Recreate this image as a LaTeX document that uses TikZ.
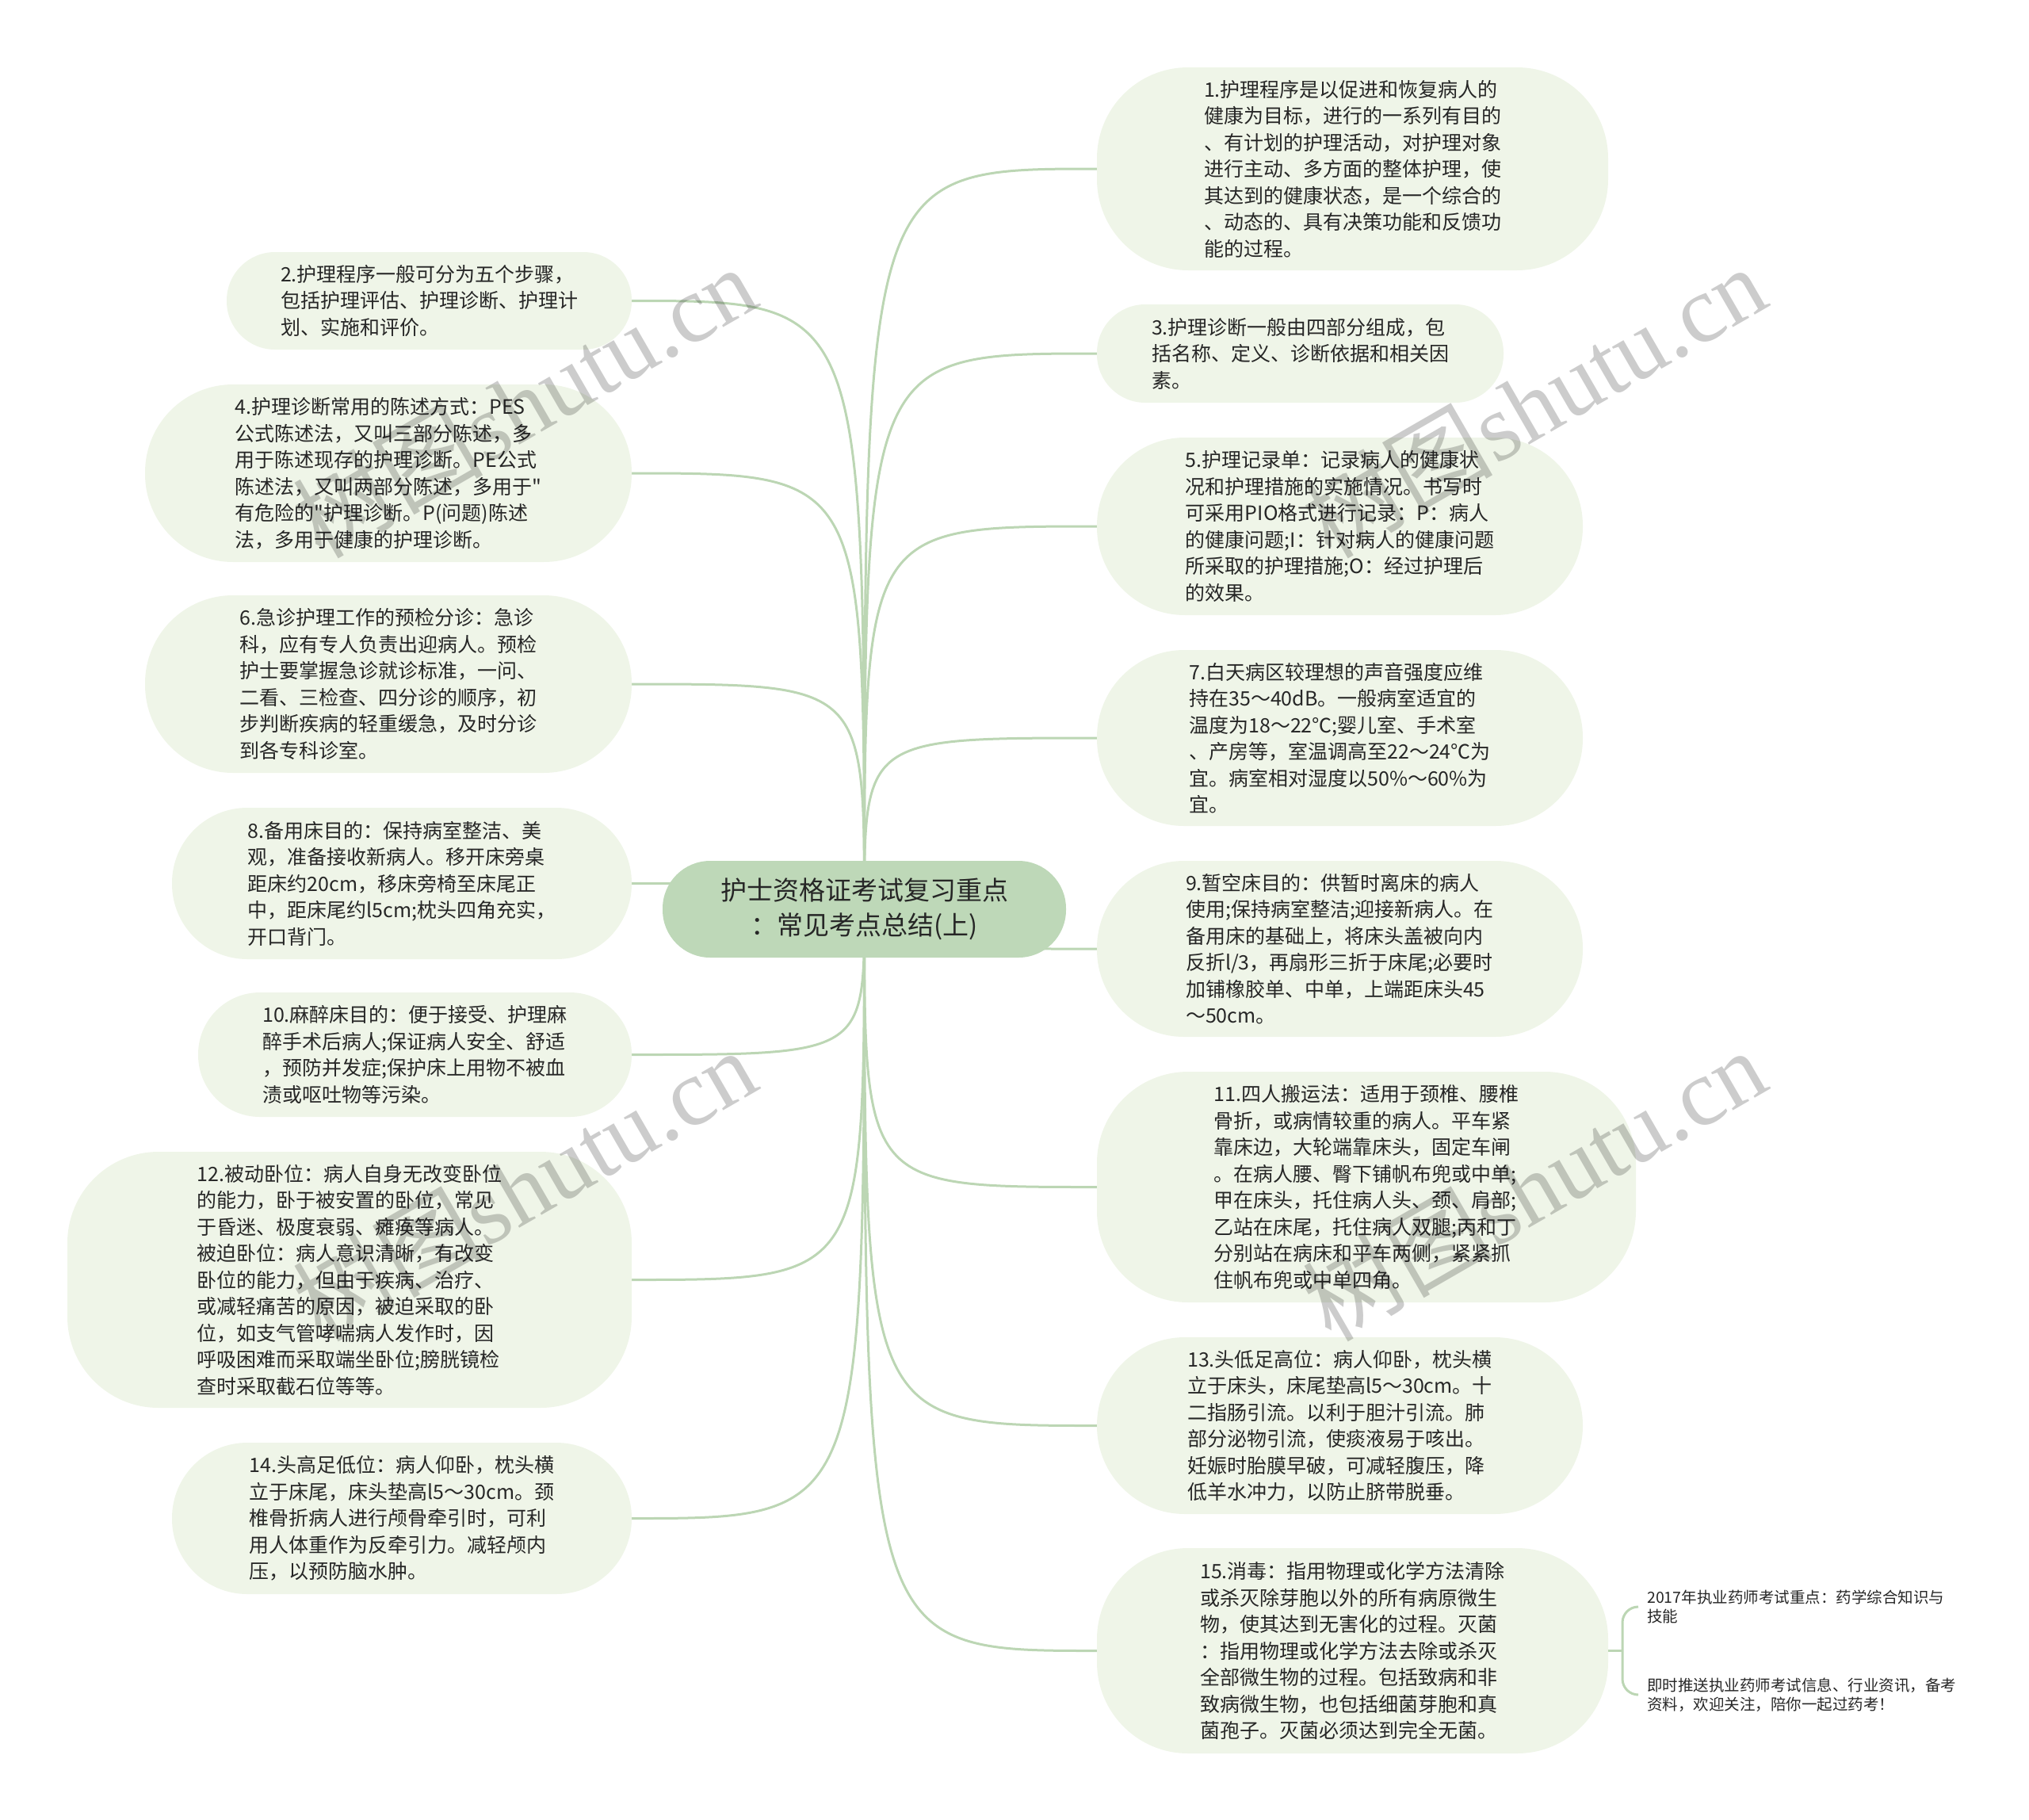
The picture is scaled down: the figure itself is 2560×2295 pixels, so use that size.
\documentclass[tikz,border=0pt]{standalone}
\usepackage{fontspec}
\setmainfont{Noto Sans CJK SC}[Ligatures=TeXOff]
\newfontfamily\wmlatin{Liberation Serif}
\usetikzlibrary{backgrounds}
\definecolor{nodefill}{RGB}{239,245,232}
\definecolor{rootfill}{RGB}{190,216,184}
\definecolor{linecol}{RGB}{188,214,180}
\definecolor{txt}{RGB}{38,38,38}
\begin{document}
\begin{tikzpicture}[x=1pt,y=-1pt,
  box/.style={fill=nodefill, inner sep=0pt, align=left, text=txt,
    font=\fontsize{25}{33.5}\selectfont},
  rootbox/.style={fill=rootfill, inner sep=0pt, align=center, text=txt,
    font=\fontsize{33}{44}\selectfont},
  leaf/.style={inner sep=0pt, align=left, text=txt, anchor=west,
    font=\fontsize{19.5}{24.5}\selectfont},
  conn/.style={draw=linecol, line width=3pt},
  wm/.style={text=black, text opacity=0.2, inner sep=0pt, rotate=30,
    font=\fontsize{120}{120}\selectfont}
]
\useasboundingbox (0,0) rectangle (2560,2295);

% root
\node[rootbox, minimum width=509, minimum height=122, rounded corners=60] (root) at (1090.5,1147)
  {护士资格证考试复习重点\\：常见考点总结(上)};

% left nodes
\node[box, minimum width=511, minimum height=123, rounded corners=61] (n2) at (541.5,379.5)
  {2.护理程序一般可分为五个步骤，\\包括护理评估、护理诊断、护理计\\划、实施和评价。};
\node[box, minimum width=614, minimum height=224, rounded corners=111] (n4) at (490,597)
  {4.护理诊断常用的陈述方式：PES\\公式陈述法，又叫三部分陈述，多\\用于陈述现存的护理诊断。PE公式\\陈述法，又叫两部分陈述，多用于"\\有危险的"护理诊断。P(问题)陈述\\法，多用于健康的护理诊断。};
\node[box, minimum width=614, minimum height=224, rounded corners=111] (n6) at (490,863)
  {6.急诊护理工作的预检分诊：急诊\\科，应有专人负责出迎病人。预检\\护士要掌握急诊就诊标准，一问、\\二看、三检查、四分诊的顺序，初\\步判断疾病的轻重缓急，及时分诊\\到各专科诊室。};
\node[box, minimum width=580, minimum height=191, rounded corners=95] (n8) at (507,1114.5)
  {8.备用床目的：保持病室整洁、美\\观，准备接收新病人。移开床旁桌\\距床约20cm，移床旁椅至床尾正\\中，距床尾约l5cm;枕头四角充实，\\开口背门。};
\node[box, minimum width=547, minimum height=157, rounded corners=78] (n10) at (523.5,1330.5)
  {10.麻醉床目的：便于接受、护理麻\\醉手术后病人;保证病人安全、舒适\\，预防并发症;保护床上用物不被血\\渍或呕吐物等污染。};
\node[box, minimum width=712, minimum height=323, rounded corners=115] (n12) at (441,1614.5)
  {12.被动卧位：病人自身无改变卧位\\的能力，卧于被安置的卧位，常见\\于昏迷、极度衰弱、瘫痪等病人。\\被迫卧位：病人意识清晰，有改变\\卧位的能力，但由于疾病、治疗、\\或减轻痛苦的原因，被迫采取的卧\\位，如支气管哮喘病人发作时，因\\呼吸困难而采取端坐卧位;膀胱镜检\\查时采取截石位等等。};
\node[box, minimum width=580, minimum height=191, rounded corners=95] (n14) at (507,1915.5)
  {14.头高足低位：病人仰卧，枕头横\\立于床尾，床头垫高l5～30cm。颈\\椎骨折病人进行颅骨牵引时，可利\\用人体重作为反牵引力。减轻颅内\\压，以预防脑水肿。};

% right nodes
\node[box, minimum width=645, minimum height=256, rounded corners=115] (n1) at (1706.5,213)
  {1.护理程序是以促进和恢复病人的\\健康为目标，进行的一系列有目的\\、有计划的护理活动，对护理对象\\进行主动、多方面的整体护理，使\\其达到的健康状态，是一个综合的\\、动态的、具有决策功能和反馈功\\能的过程。};
\node[box, minimum width=513, minimum height=124, rounded corners=61] (n3) at (1640.5,446)
  {3.护理诊断一般由四部分组成，包\\括名称、定义、诊断依据和相关因\\素。};
\node[box, minimum width=613, minimum height=224, rounded corners=111] (n5) at (1690.5,664)
  {5.护理记录单：记录病人的健康状\\况和护理措施的实施情况。书写时\\可采用PIO格式进行记录：P：病人\\的健康问题;I：针对病人的健康问题\\所采取的护理措施;O：经过护理后\\的效果。};
\node[box, minimum width=613, minimum height=222, rounded corners=110] (n7) at (1690.5,931)
  {7.白天病区较理想的声音强度应维\\持在35～40dB。一般病室适宜的\\温度为18～22℃;婴儿室、手术室\\、产房等，室温调高至22～24℃为\\宜。病室相对湿度以50\%～60\%为\\宜。};
\node[box, minimum width=613, minimum height=222, rounded corners=110] (n9) at (1690.5,1197)
  {9.暂空床目的：供暂时离床的病人\\使用;保持病室整洁;迎接新病人。在\\备用床的基础上，将床头盖被向内\\反折l/3，再扇形三折于床尾;必要时\\加铺橡胶单、中单，上端距床头45\\～50cm。};
\node[box, minimum width=680, minimum height=291, rounded corners=115] (n11) at (1724,1497.5)
  {11.四人搬运法：适用于颈椎、腰椎\\骨折，或病情较重的病人。平车紧\\靠床边，大轮端靠床头，固定车闸\\。在病人腰、臀下铺帆布兜或中单;\\甲在床头，托住病人头、颈、肩部;\\乙站在床尾，托住病人双腿;丙和丁\\分别站在病床和平车两侧，紧紧抓\\住帆布兜或中单四角。};
\node[box, minimum width=613, minimum height=223, rounded corners=111] (n13) at (1690.5,1798.5)
  {13.头低足高位：病人仰卧，枕头横\\立于床头，床尾垫高l5～30cm。十\\二指肠引流。以利于胆汁引流。肺\\部分泌物引流，使痰液易于咳出。\\妊娠时胎膜早破，可减轻腹压，降\\低羊水冲力，以防止脐带脱垂。};
\node[box, minimum width=645, minimum height=259, rounded corners=115] (n15) at (1706.5,2082.5)
  {15.消毒：指用物理或化学方法清除\\或杀灭除芽胞以外的所有病原微生\\物，使其达到无害化的过程。灭菌\\：指用物理或化学方法去除或杀灭\\全部微生物的过程。包括致病和非\\致病微生物，也包括细菌芽胞和真\\菌孢子。灭菌必须达到完全无菌。};

% leaves of n15
\node[leaf] (t1) at (2078,2027) {2017年执业药师考试重点：药学综合知识与\\技能};
\node[leaf] (t2) at (2078,2138) {即时推送执业药师考试信息、行业资讯，备考\\资料，欢迎关注，陪你一起过药考！};
\coordinate (br) at (2047,2082.5);

% connectors
\begin{scope}[on background layer]
\foreach \n in {n2,n4,n6,n8,n10,n12,n14}
  \draw[conn] (root.center) .. controls (root.center |- \n.east) .. (\n.east);
\foreach \n in {n1,n3,n5,n7,n9,n11,n13,n15}
  \draw[conn] (root.center) .. controls (root.center |- \n.west) .. (\n.west);
\end{scope}
\draw[conn] (n15.east) -- (br);
\draw[conn, rounded corners=20] ([xshift=-11pt]t1.west) -| (br) |- ([xshift=-11pt]t2.west);

% watermarks
\node[wm] (w1) at (661,506) {树图{\wmlatin shutu.cn}};
\node[wm] (w2) at (1935,506) {树图{\wmlatin shutu.cn}};
\node[wm] (w3) at (661,1494) {树图{\wmlatin shutu.cn}};
\node[wm] (w4) at (1935,1494) {树图{\wmlatin shutu.cn}};
\end{tikzpicture}
\end{document}
